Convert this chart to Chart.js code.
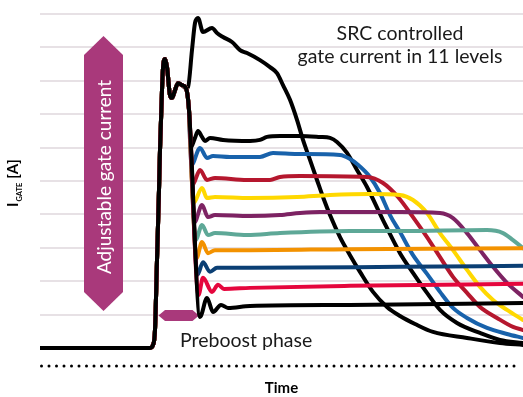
<!DOCTYPE html>
<html>
<head>
<meta charset="utf-8">
<script src="https://cdn.jsdelivr.net/npm/chart.js@4.4.1/dist/chart.umd.min.js"></script>
<style>
  html, body { margin: 0; padding: 0; background: #fff; }
  canvas { display: block; }
</style>
</head>
<body>
<canvas id="gatechart" width="523" height="397"></canvas>
<script>
// time axis in arbitrary units, current in grid steps
const gridLevels = [1, 2, 3, 4, 5, 6, 7, 8, 9, 10];

// shared rising edge (preboost) for all 11 levels
const riseShared = [[0, 0], [22, 0], [22.6, 0.09], [23, 0.54], [23.4, 2.63], [23.8, 4.73], [24, 5.93],
  [24.4, 7.72], [24.6, 8.38], [25, 8.65], [25.4, 8.41], [26, 7.57], [26.4, 7.49], [27, 7.72],
  [27.6, 7.93], [28.4, 7.87], [29.2, 7.78]];

const levelTop = [[29.6, 7.81], [30.4, 8.92], [31, 9.73], [31.6, 9.88], [32.6, 9.46], [34.4, 9.58],
  [35.4, 9.43], [36.6, 9.31], [38.4, 9.16], [40, 8.92], [41.4, 8.83], [44, 8.62], [46, 8.41],
  [47.4, 8.23], [48.6, 7.87], [50, 7.43], [51.4, 6.83], [52.6, 6.23], [54, 5.63], [55.4, 5.03],
  [56.6, 4.52], [58, 3.98], [60, 3.32], [62, 2.78], [64, 2.28], [66.6, 1.68], [69.4, 1.23],
  [72, 0.96], [75, 0.72], [78.6, 0.48], [85.4, 0.30], [92, 0.15], [96.6, 0.09]];

const level10 = [[29.8, 7.13], [30.1, 5.99], [31, 6.29], [31.6, 6.50], [32.4, 6.32], [33, 6.20],
  [34, 6.29], [36.6, 6.23], [42, 6.20], [44, 6.23], [45.4, 6.32], [48, 6.35], [52, 6.35], [56, 6.32],
  [58, 6.29], [59.4, 6.17], [61.4, 5.84], [63.4, 5.33], [65.4, 4.82], [68.6, 3.83], [72, 2.84],
  [74.6, 2.25], [77.4, 1.65], [80, 1.14], [83.4, 0.75], [88, 0.45], [92, 0.24], [96.6, 0.15]];

const level9 = [[29.8, 7.13], [30.3, 5.48], [32, 5.99], [33.4, 5.69], [34.6, 5.75], [38, 5.72],
  [44, 5.72], [46.6, 5.84], [51.4, 5.81], [60, 5.78], [62, 5.66], [63.4, 5.51], [66, 5.12],
  [68, 4.64], [70, 3.98], [72, 3.47], [74.6, 2.78], [77.4, 2.22], [80, 1.68], [82.6, 1.20],
  [85.4, 0.90], [89.4, 0.60], [93.4, 0.42], [96.6, 0.30]];

const level8 = [[29.8, 7.13], [30.5, 4.88], [32, 5.33], [33.4, 5.03], [35, 5.09], [41.4, 5.03],
  [46, 5.03], [48, 5.12], [52, 5.15], [65.4, 5.12], [68.6, 4.94], [71.6, 4.52], [74.6, 3.92],
  [77.4, 3.32], [80, 2.72], [82.6, 2.13], [85.4, 1.65], [88, 1.23], [91.4, 0.90], [94.6, 0.63],
  [96.6, 0.54]];

const level7 = [[29.8, 7.13], [30.7, 4.34], [32.4, 4.79], [33.4, 4.49], [35, 4.52], [42, 4.49],
  [51.4, 4.52], [58, 4.58], [66, 4.61], [72, 4.58], [74.6, 4.43], [77.4, 4.04], [80, 3.44],
  [82.6, 2.93], [85.4, 2.34], [88, 1.83], [90.6, 1.44], [93.4, 1.14], [96.6, 0.84]];

const level6 = [[29.8, 7.13], [30.9, 3.77], [32.4, 4.28], [33.6, 3.92], [35, 3.98], [42, 3.95],
  [48, 3.98], [52, 4.04], [56, 4.07], [72, 4.07], [80, 4.04], [82.6, 3.89], [85.4, 3.44],
  [88, 2.93], [90.6, 2.43], [93.4, 1.95], [96.6, 1.53]];

const level5 = [[29.8, 7.13], [31.1, 3.23], [32.4, 3.68], [33.6, 3.38], [35, 3.44], [41.4, 3.38],
  [48, 3.44], [62, 3.50], [72, 3.50], [89.4, 3.53], [92.6, 3.44], [94.6, 3.23], [96.6, 2.99]];

const level4 = [[29.8, 7.13], [31.3, 2.69], [32.4, 3.17], [33.6, 2.84], [35, 2.93], [42, 2.93],
  [62, 2.96], [96.6, 2.99]];

const level3 = [[29.8, 7.13], [31.5, 2.19], [32.6, 2.57], [34, 2.28], [35.4, 2.40], [42, 2.40],
  [72, 2.43], [96.6, 2.46]];

const level2 = [[29.8, 7.13], [31.7, 1.59], [32.6, 2.10], [34.4, 1.68], [35.6, 1.89], [36.8, 1.77],
  [42, 1.80], [62, 1.86], [96.6, 1.92]];

const level1 = [[29.8, 7.13], [32, 0.93], [33.4, 1.50], [34.6, 1.08], [36.2, 1.29], [37.6, 1.20],
  [42, 1.26], [62, 1.29], [96.6, 1.35]];

// top level first, lowest level last
const levels = [levelTop, level10, level9, level8, level7, level6, level5, level4, level3, level2, level1];
const levelColors = ['#000000', '#000000', '#1862ab', '#b5172e', '#ffd800', '#7d2363',
  '#5ea897', '#f39200', '#0b3f74', '#e5063d', '#000000'];

const arrowColor = '#a9397b';
const fontFamily = 'Lato, "Open Sans", sans-serif';

const annotate = {
  id: 'annotate',
  beforeDatasetsDraw(chart) {
    const ctx = chart.ctx;
    const xs = chart.scales.x, ys = chart.scales.y;
    ctx.save();
    ctx.fillStyle = arrowColor;

    // vertical double arrow
    const cx = xs.getPixelForValue(12.7);
    const top = ys.getPixelForValue(9.34), bot = ys.getPixelForValue(1.11);
    const hw = 19.5, head = 19;
    ctx.beginPath();
    ctx.moveTo(cx, top);
    ctx.lineTo(cx + hw, top + head);
    ctx.lineTo(cx + hw, bot - head);
    ctx.lineTo(cx, bot);
    ctx.lineTo(cx - hw, bot - head);
    ctx.lineTo(cx - hw, top + head);
    ctx.closePath();
    ctx.fill();

    // preboost double arrow
    const l = xs.getPixelForValue(23.7), r = xs.getPixelForValue(31.8), my = ys.getPixelForValue(0.97);
    const hh = 5.5, hd = 6.5;
    ctx.beginPath();
    ctx.moveTo(l, my);
    ctx.lineTo(l + hd, my - hh);
    ctx.lineTo(r - hd, my - hh);
    ctx.lineTo(r, my);
    ctx.lineTo(r - hd, my + hh);
    ctx.lineTo(l + hd, my + hh);
    ctx.closePath();
    ctx.fill();

    // arrow text
    ctx.translate(cx, ys.getPixelForValue(5.12));
    ctx.rotate(-Math.PI / 2);
    ctx.fillStyle = '#ffffff';
    ctx.font = '19px ' + fontFamily;
    ctx.textAlign = 'center';
    ctx.textBaseline = 'middle';
    ctx.fillText('Adjustable gate current', 0, 1);
    ctx.restore();
  },
  afterDraw(chart) {
    const ctx = chart.ctx;
    const xs = chart.scales.x, ys = chart.scales.y;
    const area = chart.chartArea;
    ctx.save();

    // dotted time axis
    ctx.strokeStyle = '#000000';
    ctx.lineWidth = 3;
    ctx.lineCap = 'round';
    ctx.setLineDash([0, 7.5]);
    ctx.beginPath();
    ctx.moveTo(area.left + 1.5, area.bottom);
    ctx.lineTo(area.right - 2, area.bottom);
    ctx.stroke();
    ctx.setLineDash([]);

    ctx.fillStyle = '#1a1a1a';
    ctx.font = '19.5px ' + fontFamily;
    ctx.textAlign = 'center';
    ctx.textBaseline = 'alphabetic';
    ctx.fillText('SRC controlled', xs.getPixelForValue(72), ys.getPixelForValue(9.22));
    ctx.fillText('gate current in 11 levels', xs.getPixelForValue(72), ys.getPixelForValue(8.53));
    ctx.textAlign = 'left';
    ctx.fillText('Preboost phase', xs.getPixelForValue(28), ys.getPixelForValue(0.03));

    // y title with subscript
    ctx.fillStyle = '#000000';
    ctx.translate(area.left - 22, 207);
    ctx.rotate(-Math.PI / 2);
    ctx.font = 'bold 15px ' + fontFamily;
    ctx.fillText('I', 0, 0);
    let w = ctx.measureText('I').width + 1;
    ctx.font = 'bold 7.5px ' + fontFamily;
    ctx.fillText('GATE', w, 4);
    w += ctx.measureText('GATE').width + 4;
    ctx.font = 'bold 15px ' + fontFamily;
    ctx.fillText('[A]', w, 0);
    ctx.restore();
  }
};

new Chart(document.getElementById('gatechart').getContext('2d'), {
  type: 'line',
  data: {
    datasets: levels.map((pts, i) => ({
      data: riseShared.concat(pts).map(p => ({ x: p[0], y: p[1] })),
      borderColor: levelColors[i],
      borderWidth: 4,
      pointRadius: 0,
      fill: false,
      cubicInterpolationMode: 'monotone',
      borderJoinStyle: 'round',
      borderCapStyle: 'round',
      order: levels.length - i
    }))
  },
  options: {
    responsive: false,
    animation: false,
    devicePixelRatio: 1,
    layout: { padding: { left: 40, right: 0, top: 4, bottom: 0 } },
    plugins: { legend: { display: false }, tooltip: { enabled: false } },
    scales: {
      x: {
        type: 'linear',
        min: 0,
        max: 96.6,
        ticks: { display: false },
        grid: { display: false, drawTicks: false },
        border: { display: false },
        title: {
          display: true,
          text: 'Time',
          color: '#000000',
          font: { family: fontFamily, size: 15, weight: 'bold' },
          padding: { top: 13, bottom: 0 }
        }
      },
      y: {
        min: -0.539,
        max: 10.299,
        afterBuildTicks: axis => { axis.ticks = gridLevels.map(v => ({ value: v })); },
        ticks: { display: false },
        grid: { color: '#e7e1e5', lineWidth: 2, drawTicks: false },
        border: { display: false }
      }
    }
  },
  plugins: [annotate]
});
</script>
</body>
</html>
